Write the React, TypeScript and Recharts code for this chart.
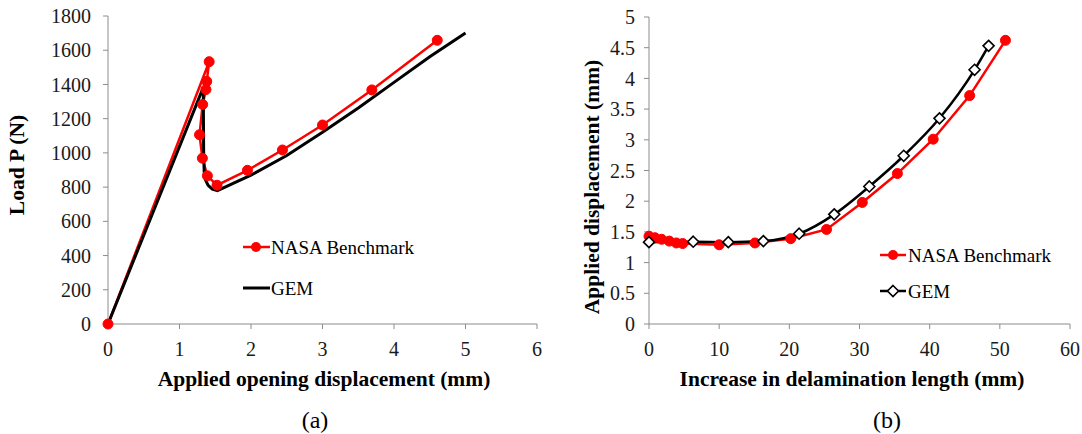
import React from 'react';
import { LineChart, Line, XAxis, YAxis } from 'recharts';

// (a) load vs applied opening displacement
const nasaAX = [0, 1.415, 1.381, 1.37, 1.324, 1.28, 1.32, 1.39, 1.525, 1.95, 2.44, 3.0, 3.69, 4.605];
const nasaAY = [0, 1533, 1418, 1370, 1283, 1106, 969, 866, 811, 898, 1017, 1163, 1368, 1658];
const gemAX = [0, 1.333, 1.335, 1.338, 1.345, 1.36, 1.4, 1.46, 1.53, 2.0, 2.5, 3.0, 3.5, 4.0, 4.5, 5.0];
const gemAY = [0, 1383, 1200, 1000, 890, 845, 810, 788, 779, 870, 985, 1120, 1262, 1412, 1562, 1700];
const ticksAX = [0, 1, 2, 3, 4, 5, 6];
const ticksAY = [0, 200, 400, 600, 800, 1000, 1200, 1400, 1600, 1800];

// (b) applied displacement vs delamination growth
const nasaBX = [0, 0.85, 1.8, 2.9, 3.9, 4.8, 10.0, 15.1, 20.2, 25.3, 30.4, 35.4, 40.5, 45.7, 50.8];
const nasaBY = [1.43, 1.405, 1.38, 1.35, 1.32, 1.31, 1.29, 1.32, 1.39, 1.54, 1.98, 2.45, 3.01, 3.72, 4.62];
const gemBX = [0, 6.3, 11.3, 16.3, 21.4, 26.4, 31.4, 36.3, 41.4, 46.4, 48.4];
const gemBY = [1.333, 1.34, 1.333, 1.35, 1.47, 1.786, 2.24, 2.74, 3.35, 4.14, 4.53];
const ticksBX = [0, 10, 20, 30, 40, 50, 60];
const ticksBY = [0, 0.5, 1, 1.5, 2, 2.5, 3, 3.5, 4, 4.5, 5];

const zip = (xs: number[], ys: number[]) => xs.map((x, i) => ({ x, y: ys[i] }));

const SERIF = "'Liberation Serif', 'Times New Roman', serif";
const AXIS = '#8c8c8c';
const RED = '#ff0000';
const tickStyle = { fill: '#1a1a1a', fontSize: 20, fontFamily: SERIF };

const Diamond = (props: any) => {
  const { cx, cy, index } = props;
  if (cx == null || cy == null) return <g key={index} />;
  const r = 5.5;
  return (
    <path
      key={index}
      d={`M${cx},${cy - r}L${cx + r},${cy}L${cx},${cy + r}L${cx - r},${cy}Z`}
      fill="#fff"
      stroke="#000"
      strokeWidth={1.6}
    />
  );
};

const titleStyle = (left: number, top: number, rotate = false): React.CSSProperties => ({
  position: 'absolute',
  left,
  top,
  transform: `translate(-50%, -50%)${rotate ? ' rotate(-90deg)' : ''}`,
  whiteSpace: 'nowrap',
  fontFamily: SERIF,
  fontWeight: 'bold',
  fontSize: 21.5,
  color: '#000',
  lineHeight: 1,
});

const legendText: React.CSSProperties = {
  position: 'absolute',
  fontFamily: SERIF,
  fontSize: 19,
  color: '#000',
  lineHeight: 1,
  whiteSpace: 'nowrap',
  transform: 'translateY(-50%)',
};

export default function App() {
  return (
    <div style={{ position: 'absolute', left: 0, top: 0, width: 1082, height: 434, background: '#fff', overflow: 'hidden' }}>
      <div style={{ position: 'absolute', left: 0, top: 0 }}>
        <LineChart width={560} height={434} margin={{ top: 16, right: 23, bottom: 0, left: 0 }}>
          <XAxis
            type="number"
            dataKey="x"
            domain={[0, 6]}
            ticks={ticksAX}
            height={110}
            tick={tickStyle}
            tickSize={5}
            tickMargin={13}
            axisLine={{ stroke: AXIS }}
            tickLine={{ stroke: AXIS }}
          />
          <YAxis
            type="number"
            dataKey="y"
            domain={[0, 1800]}
            ticks={ticksAY}
            width={108}
            tick={tickStyle}
            tickSize={5}
            tickMargin={12}
            axisLine={{ stroke: AXIS }}
            tickLine={{ stroke: AXIS }}
          />
          <Line
            data={zip(nasaAX, nasaAY)}
            dataKey="y"
            type="linear"
            stroke={RED}
            strokeWidth={2.5}
            dot={{ r: 5, fill: RED, stroke: RED, strokeWidth: 1 }}
            activeDot={false}
            isAnimationActive={false}
          />
          <Line
            data={zip(gemAX, gemAY)}
            dataKey="y"
            type="linear"
            stroke="#000"
            strokeWidth={3}
            dot={false}
            activeDot={false}
            isAnimationActive={false}
          />
        </LineChart>
      </div>

      <div style={{ position: 'absolute', left: 540, top: 0 }}>
        <LineChart width={542} height={434} margin={{ top: 17, right: 12, bottom: 0, left: 0 }}>
          <XAxis
            type="number"
            dataKey="x"
            domain={[0, 60]}
            ticks={ticksBX}
            height={110}
            tick={tickStyle}
            tickSize={5}
            tickMargin={13}
            axisLine={{ stroke: AXIS }}
            tickLine={{ stroke: AXIS }}
          />
          <YAxis
            type="number"
            dataKey="y"
            domain={[0, 5]}
            ticks={ticksBY}
            width={109}
            tick={tickStyle}
            tickSize={5}
            tickMargin={9}
            axisLine={{ stroke: AXIS }}
            tickLine={{ stroke: AXIS }}
          />
          <Line
            data={zip(nasaBX, nasaBY)}
            dataKey="y"
            type="linear"
            stroke={RED}
            strokeWidth={2.5}
            dot={{ r: 5, fill: RED, stroke: RED, strokeWidth: 1 }}
            activeDot={false}
            isAnimationActive={false}
          />
          <Line
            data={zip(gemBX, gemBY)}
            dataKey="y"
            type="monotone"
            stroke="#000"
            strokeWidth={2.5}
            dot={Diamond}
            activeDot={false}
            isAnimationActive={false}
          />
        </LineChart>
      </div>

      {/* axis titles and captions */}
      <div style={titleStyle(18, 165, true)}>Load P (N)</div>
      <div style={titleStyle(324, 380)}>Applied opening displacement (mm)</div>
      <div style={{ ...titleStyle(315, 420), fontWeight: 'normal', fontSize: 24 }}>(a)</div>
      <div style={titleStyle(593, 187, true)}>Applied displacement (mm)</div>
      <div style={titleStyle(852, 380)}>Increase in delamination length (mm)</div>
      <div style={{ ...titleStyle(887, 420), fontWeight: 'normal', fontSize: 24 }}>(b)</div>

      {/* legends */}
      <svg style={{ position: 'absolute', left: 0, top: 0 }} width={1082} height={434}>
        <line x1={243} y1={247} x2={270} y2={247} stroke={RED} strokeWidth={2.5} />
        <circle cx={256} cy={247} r={5} fill={RED} />
        <line x1={243} y1={288} x2={270} y2={288} stroke="#000" strokeWidth={3} />
        <line x1={880} y1={255} x2={906} y2={255} stroke={RED} strokeWidth={2.5} />
        <circle cx={893} cy={255} r={5} fill={RED} />
        <line x1={880} y1={291} x2={906} y2={291} stroke="#000" strokeWidth={2.5} />
        <path d="M893,285.5L898.5,291L893,296.5L887.5,291Z" fill="#fff" stroke="#000" strokeWidth={1.6} />
      </svg>
      <div style={{ ...legendText, left: 271, top: 247 }}>NASA Benchmark</div>
      <div style={{ ...legendText, left: 271, top: 288 }}>GEM</div>
      <div style={{ ...legendText, left: 908, top: 255 }}>NASA Benchmark</div>
      <div style={{ ...legendText, left: 908, top: 291 }}>GEM</div>
    </div>
  );
}
